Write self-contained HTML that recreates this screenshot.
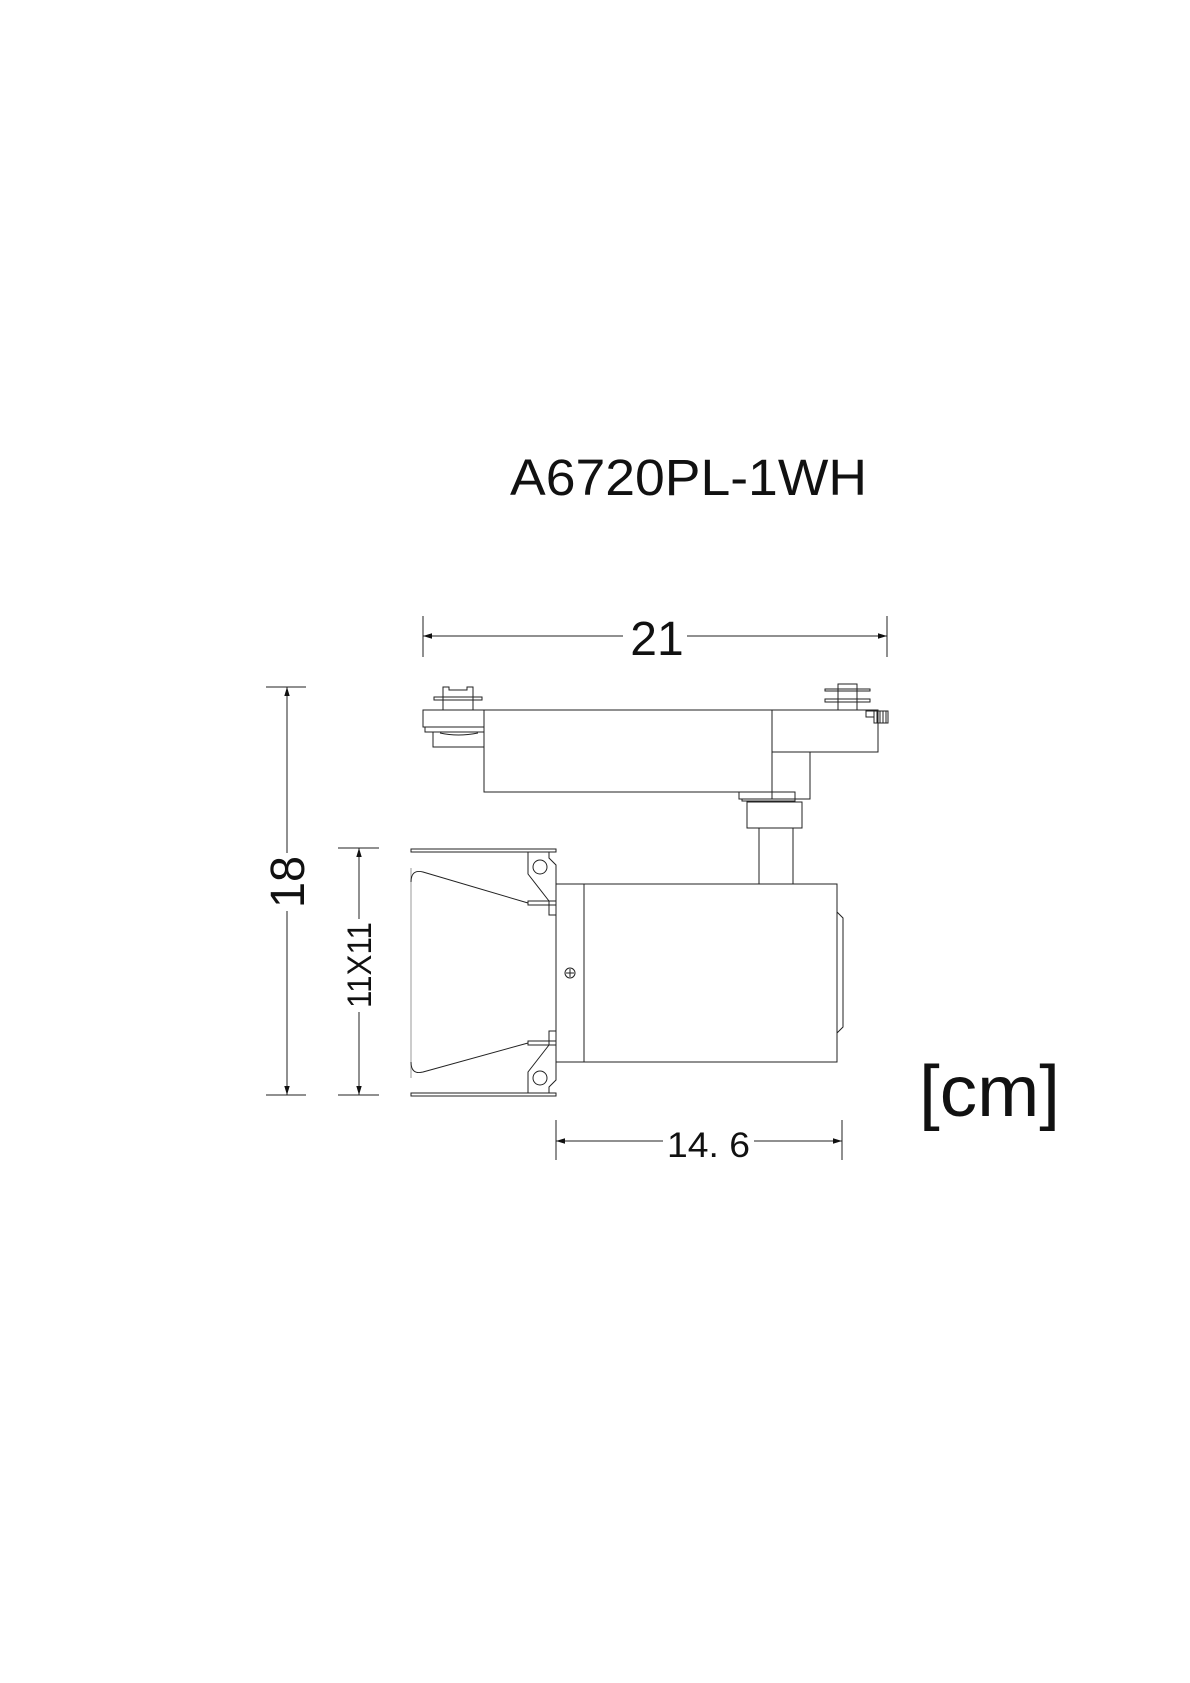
<!DOCTYPE html>
<html><head><meta charset="utf-8"><style>
html,body{margin:0;padding:0;background:#fff;}
svg{display:block;}
text{font-family:"Liberation Sans",sans-serif;fill:#111;}
</style></head><body>
<svg width="1190" height="1683" viewBox="0 0 1190 1683" xmlns="http://www.w3.org/2000/svg">
<defs>
<marker id="ar" viewBox="0 0 10 10" refX="10" refY="5" markerWidth="9" markerHeight="9" orient="auto-start-reverse" markerUnits="userSpaceOnUse"><path d="M0,2 L10,5 L0,8 Z" fill="#111"/></marker>
</defs>
<text x="510" y="495" font-size="51" textLength="357" lengthAdjust="spacingAndGlyphs">A6720PL-1WH</text>

<g stroke="#222" stroke-width="1" fill="none">
<!-- 21 dim -->
<line x1="423" y1="616" x2="423" y2="657"/>
<line x1="887" y1="616" x2="887" y2="657"/>
<line x1="423" y1="636" x2="623" y2="636" marker-start="url(#ar)"/>
<line x1="687" y1="636" x2="887" y2="636" marker-end="url(#ar)"/>
<!-- 18 dim -->
<line x1="266" y1="687" x2="306" y2="687"/>
<line x1="266" y1="1095" x2="306" y2="1095"/>
<line x1="287" y1="687" x2="287" y2="853" marker-start="url(#ar)"/>
<line x1="287" y1="911" x2="287" y2="1095" marker-end="url(#ar)"/>
<!-- 11x11 dim -->
<line x1="338" y1="848" x2="379" y2="848"/>
<line x1="338" y1="1095" x2="379" y2="1095"/>
<line x1="359" y1="848" x2="359" y2="919" marker-start="url(#ar)"/>
<line x1="359" y1="1012" x2="359" y2="1095" marker-end="url(#ar)"/>
<!-- 14.6 dim -->
<line x1="556" y1="1120" x2="556" y2="1160"/>
<line x1="842" y1="1120" x2="842" y2="1160"/>
<line x1="556" y1="1141" x2="663" y2="1141" marker-start="url(#ar)"/>
<line x1="754" y1="1141" x2="842" y2="1141" marker-end="url(#ar)"/>

<!-- track adapter -->
<rect x="484" y="710" width="288" height="82"/>
<rect x="423" y="710" width="61" height="17"/>
<rect x="425" y="727" width="59" height="5"/>
<rect x="433" y="732" width="51" height="15"/>
<path d="M440,733 Q458,737 478,733"/>
<rect x="443" y="697" width="30" height="13"/>
<rect x="434" y="697" width="48" height="3"/>
<path d="M443,697 V687 H449 V690 H467 V687 H473 V697"/>
<rect x="772" y="710" width="106" height="42"/>
<rect x="772" y="752" width="38" height="47"/>
<rect x="838" y="684" width="19" height="26"/>
<rect x="825" y="689" width="45" height="2"/>
<rect x="825" y="699" width="45" height="3"/>
<rect x="866" y="711" width="8" height="6"/>
<rect x="874" y="711" width="14" height="12"/>
<path d="M877,711 V723 M880,711 V723 M883,711 V723 M886,711 V723"/>
<rect x="739" y="792" width="56" height="7"/>
<rect x="742" y="799" width="53" height="2"/>
<rect x="747" y="802" width="55" height="26"/>
<rect x="759" y="828" width="34" height="56"/>

<!-- body -->
<rect x="556" y="884" width="281" height="178"/>
<line x1="584" y1="884" x2="584" y2="1062"/>
<path d="M837,912 L843,918 V1027 L837,1033"/>
<circle cx="570" cy="973" r="5"/>
<path d="M566,973 H574 M570,969 V977"/>

<!-- barn doors -->
<rect x="411" y="849" width="145" height="3"/>
<rect x="411" y="1093" width="145" height="3"/>
<path d="M411,868 V1078" stroke="#999"/>
<path d="M411,882 Q411,869 423,872 L528,903"/>
<path d="M411,1062 Q411,1075 423,1072 L528,1043"/>
<rect x="528" y="901" width="28" height="4"/>
<rect x="549" y="901" width="7" height="14"/>
<rect x="528" y="1041" width="28" height="4"/>
<rect x="549" y="1031" width="7" height="14"/>
<path d="M528,852 V874 L549,901"/>
<path d="M549,852 V858 L556,865 V884"/>
<path d="M528,1093 V1072 L549,1045"/>
<path d="M549,1093 V1087 L556,1080 V1062"/>
<circle cx="540" cy="867" r="7"/>
<circle cx="540" cy="1078" r="7"/>
</g>

<text x="657" y="655" font-size="48" text-anchor="middle">21</text>
<text transform="translate(304,882) rotate(-90)" font-size="48" text-anchor="middle" textLength="52" lengthAdjust="spacingAndGlyphs">18</text>
<text transform="translate(371,965) rotate(-90)" font-size="34" text-anchor="middle" textLength="86" lengthAdjust="spacingAndGlyphs">11X11</text>
<text x="667" y="1157" font-size="35" textLength="83" lengthAdjust="spacingAndGlyphs">14. 6</text>
<text x="919" y="1116" font-size="72" textLength="141" lengthAdjust="spacingAndGlyphs">[cm]</text>
</svg>
</body></html>
